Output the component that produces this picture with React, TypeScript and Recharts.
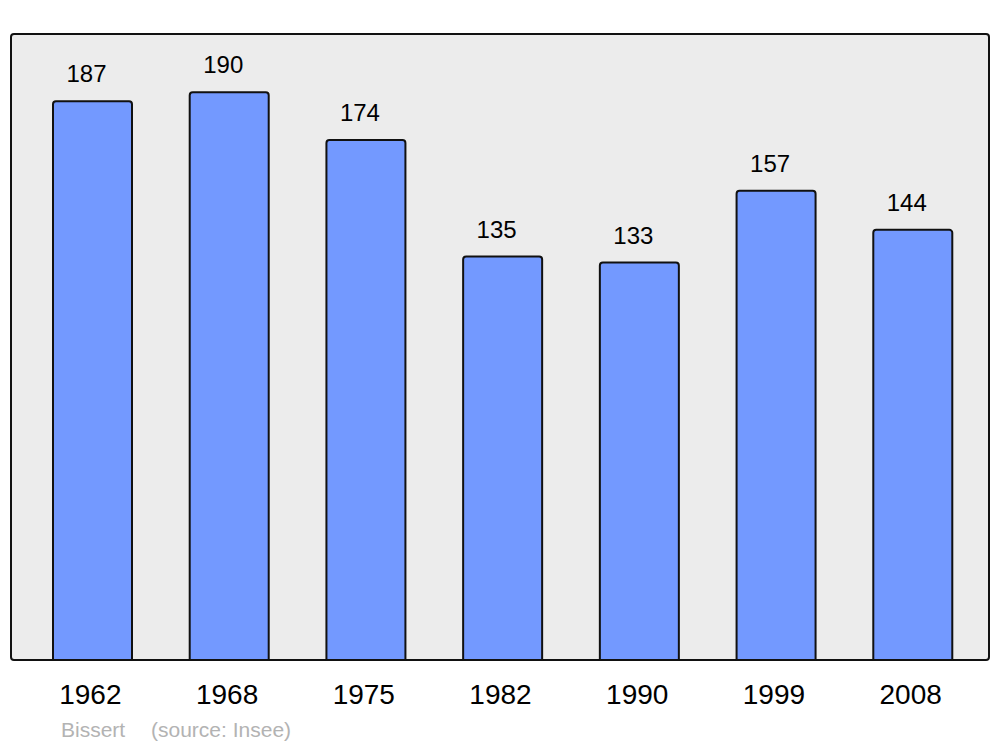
import React from 'react';
import { BarChart, Bar, XAxis, YAxis, LabelList } from 'recharts';

const years = ['1962', '1968', '1975', '1982', '1990', '1999', '2008'];
const population = [187, 190, 174, 135, 133, 157, 144];
const yMax = 209.5;

const data = years.map((y, i) => ({ year: y, pop: population[i] }));

const ValueLabel = (props: any) => {
  const { x, y, width, value } = props;
  return (
    <text x={x + width / 2 - 6} y={y - 19} textAnchor="middle" fontSize={24} fill="#000"
      fontFamily="'Liberation Sans', Arial, sans-serif">{value}</text>
  );
};

const Tick = (props: any) => {
  const { x, y, payload } = props;
  return (
    <text x={x - 2} y={y + 36} textAnchor="middle" fontSize={28} fill="#000"
      fontFamily="'Liberation Sans', Arial, sans-serif">{payload.value}</text>
  );
};

const footStyle: React.CSSProperties = {
  position: 'absolute', top: 718, fontSize: 21, color: '#b3b3b3',
  fontFamily: "'Liberation Sans', Arial, sans-serif", whiteSpace: 'pre'
};

export default function App() {
  return (
    <div style={{ position: 'absolute', left: 0, top: 0, width: 1000, height: 747, background: '#fff' }}>
      <div style={{
        position: 'absolute', left: 10, top: 33, width: 975.5, height: 623.5,
        border: '2.5px solid #111', borderRadius: 4, background: '#ececec'
      }} />
      <div style={{ position: 'absolute', left: 0, top: 0 }}>
        <BarChart width={1000} height={747} data={data}
          margin={{ top: 34, right: 11, bottom: 47, left: 11 }}>
          <XAxis dataKey="year" axisLine={false} tickLine={false} height={40}
            padding={{ left: 13, right: 8 }} tick={<Tick />} interval={0} />
          <YAxis hide domain={[0, yMax]} />
          <Bar dataKey="pop" fill="#7399ff" stroke="#111" strokeWidth={2} barSize={79}
            radius={[3, 3, 0, 0]} isAnimationActive={false}>
            <LabelList dataKey="pop" content={<ValueLabel />} />
          </Bar>
        </BarChart>
      </div>
      <div style={{ ...footStyle, left: 61 }}>Bissert</div>
      <div style={{ ...footStyle, left: 151 }}>(source: Insee)</div>
    </div>
  );
}
